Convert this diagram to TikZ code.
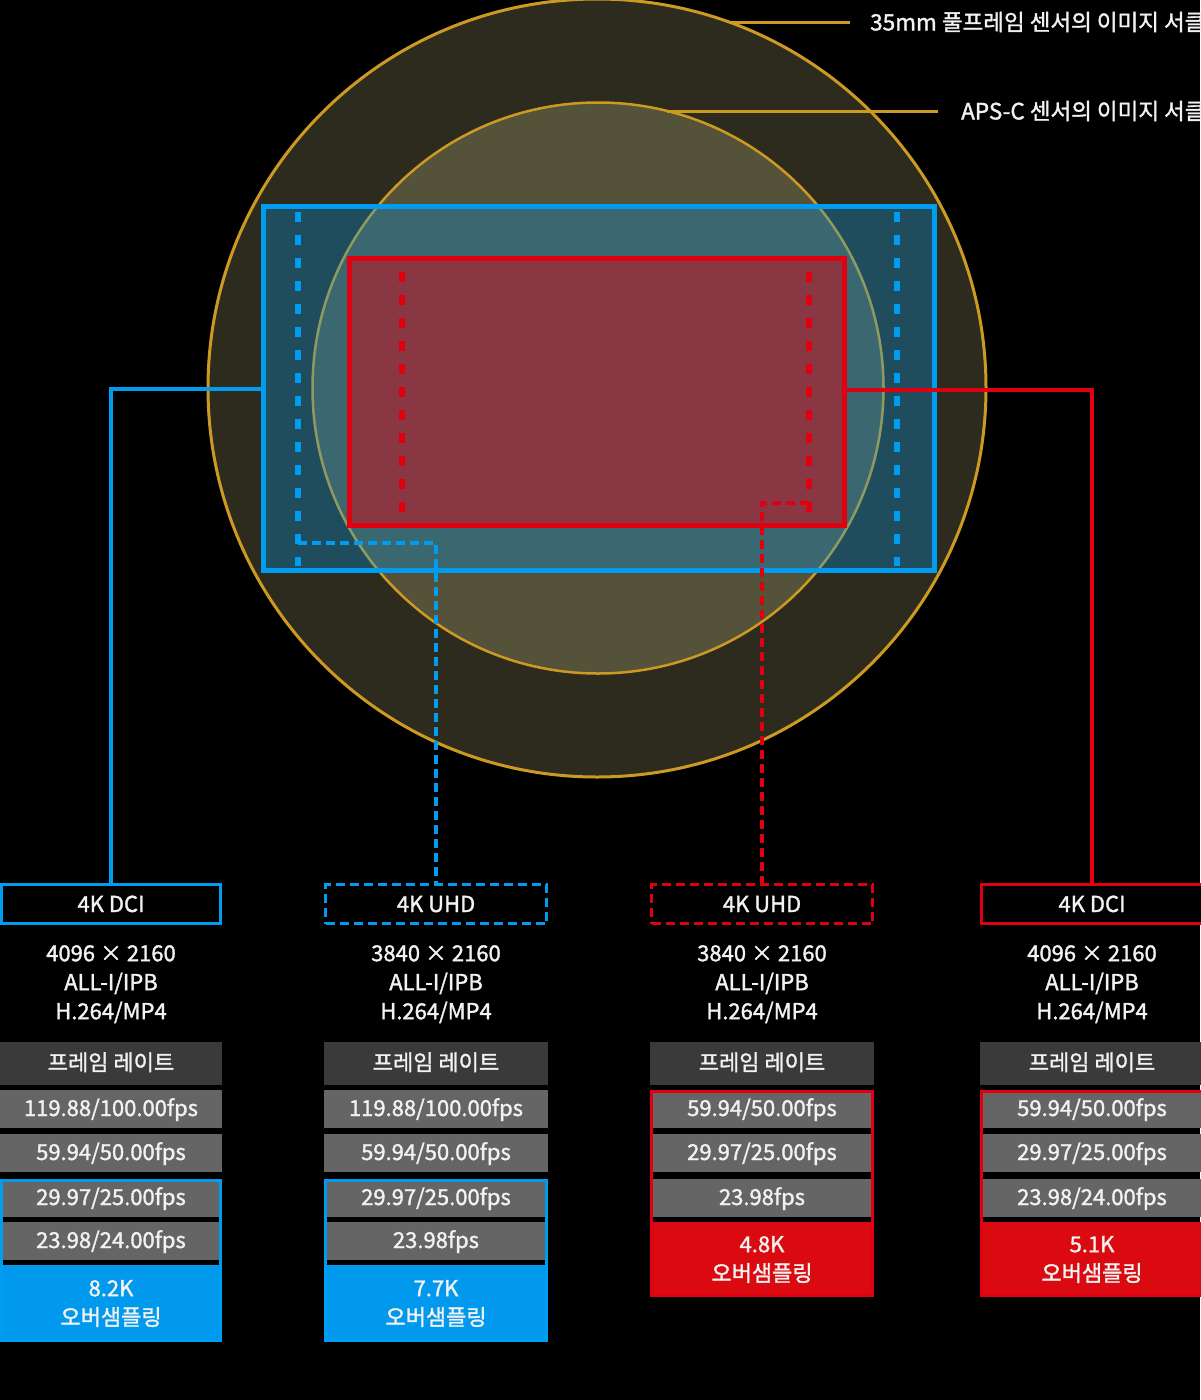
\documentclass[tikz,border=0pt]{standalone}
\usepackage{fontspec}
\setmainfont{Noto Sans CJK KR}[FakeBold=1.5]
\definecolor{gold}{HTML}{CC9A22}
\definecolor{ringfill}{HTML}{2D2B1E}
\definecolor{apsfill}{HTML}{55523A}
\definecolor{skyb}{HTML}{009CF0}
\definecolor{redc}{HTML}{E1000F}
\definecolor{rowgray}{HTML}{656565}
\definecolor{hdgray}{HTML}{3A3A3A}
\definecolor{osblue}{HTML}{0099EE}
\definecolor{osred}{HTML}{DB0A10}
\definecolor{txt}{HTML}{F2F2F2}
\begin{document}
\begin{tikzpicture}[x=1pt,y=-1pt,
  every node/.style={inner sep=0pt},
  lbl/.style={font=\fontsize{22}{29}\selectfont, text=txt},
  toplbl/.style={font=\fontsize{22.5}{29}\selectfont, text=txt, anchor=west},
  hdrbox/.style={draw, line width=3pt, fill=black, minimum height=39pt, lbl, text height=16pt, text depth=0pt},
  specs/.style={lbl, align=center, anchor=north},
  frbox/.style={fill=hdgray, minimum height=43pt, lbl, text height=16pt, text depth=2pt},
  fpsrow/.style={fill=rowgray, minimum height=38pt, lbl, text height=16pt, text depth=2pt},
  osbox/.style={lbl, align=center},
  grp/.style={draw, line width=3pt},
  thickdash/.style={line width=5.5pt, dash pattern=on 10pt off 13pt},
  thindash/.style={line width=3.5pt, dash pattern=on 9pt off 5pt},
  conn/.style={line width=4pt},
  goldline/.style={draw=gold, line width=3pt}
]
\useasboundingbox (0,0) rectangle (1200,1400);
\fill[black] (0,0) rectangle (1200,1400);

% image circles
\node[circle, minimum size=778pt, fill=ringfill, draw=gold, line width=3pt] (outer) at (597,388) {};
\node[circle, minimum size=571pt, fill=apsfill, draw=gold, line width=2.5pt] (inner) at (598,388) {};

% circle labels
\coordinate (ls1) at (729,22);
\coordinate (le1) at (850,22);
\coordinate (ls2) at (667,111);
\coordinate (le2) at (938,111);
\draw[goldline] (ls1) -- (le1);
\draw[goldline] (ls2) -- (le2);
\node[toplbl] (lab1) at (870,22) {35mm 풀프레임 센서의 이미지 서클};
\node[toplbl] (lab2) at (961,111) {APS-C 센서의 이미지 서클};

% sensor crop rectangles
\node[draw=skyb, line width=5pt, fill=skyb, fill opacity=0.3, draw opacity=1, minimum width=671pt, minimum height=364pt] (bluer) at (599,388.5) {};
\draw[skyb, thickdash] (298,212) -- (298,566);
\draw[skyb, thickdash] (897,212) -- (897,566);
\node[draw=redc, line width=5pt, fill=redc, fill opacity=0.47, draw opacity=1, minimum width=495pt, minimum height=267pt] (redr) at (597,392) {};
\draw[redc, thickdash] (402,272) -- (402,512);
\draw[redc, thickdash] (809,272) -- (809,524);

% column headers
\node[hdrbox, draw=skyb, minimum width=219pt] (hdr1) at (111,904) {4K DCI};
\node[hdrbox, draw=skyb, dash pattern=on 9pt off 5pt, minimum width=221pt] (hdr2) at (436,904) {4K UHD};
\node[hdrbox, draw=redc, dash pattern=on 9pt off 5pt, minimum width=221pt] (hdr3) at (762,904) {4K UHD};
\node[hdrbox, draw=redc, minimum width=221pt] (hdr4) at (1092,904) {4K DCI};

% connectors
\coordinate (bd) at (298,543);
\coordinate (rd) at (809,503);
\draw[skyb, conn] ([yshift=-0.5pt]bluer.west) -| (hdr1.north);
\draw[redc, conn] ([yshift=2pt]redr.east) -| (hdr4.north);
\draw[skyb, thindash] (bd) -| (hdr2.north);
\draw[redc, thindash] (rd) -| (hdr3.north);

% specs
\node[specs] (sp1) at (111,945) {4096 × 2160\\ALL-I/IPB\\H.264/MP4};
\node[specs] (sp2) at (436,945) {3840 × 2160\\ALL-I/IPB\\H.264/MP4};
\node[specs] (sp3) at (762,945) {3840 × 2160\\ALL-I/IPB\\H.264/MP4};
\node[specs] (sp4) at (1092,945) {4096 × 2160\\ALL-I/IPB\\H.264/MP4};

% frame rate headers
\node[frbox, minimum width=222pt] (fr1) at (111,1063.5) {프레임 레이트};
\node[frbox, minimum width=224pt] (fr2) at (436,1063.5) {프레임 레이트};
\node[frbox, minimum width=224pt] (fr3) at (762,1063.5) {프레임 레이트};
\node[frbox, minimum width=224pt] (fr4) at (1092,1063.5) {프레임 레이트};

% column 1
\node[fpsrow, minimum width=222pt] (a1) at (111,1109) {119.88/100.00fps};
\node[fpsrow, minimum width=222pt] (a2) at (111,1153) {59.94/50.00fps};
\node[fpsrow, minimum width=222pt] (a3) at (111,1198) {29.97/25.00fps};
\node[fpsrow, minimum width=222pt] (a4) at (111,1241) {23.98/24.00fps};
\node[osbox, fill=osblue, minimum width=222pt, minimum height=77pt] (os1) at (111,1303.5) {8.2K\\오버샘플링};
\draw[grp, skyb] (1.5,1180.5) rectangle (220.5,1340.5);

% column 2
\node[fpsrow, minimum width=224pt] (b1) at (436,1109) {119.88/100.00fps};
\node[fpsrow, minimum width=224pt] (b2) at (436,1153) {59.94/50.00fps};
\node[fpsrow, minimum width=224pt] (b3) at (436,1198) {29.97/25.00fps};
\node[fpsrow, minimum width=224pt] (b4) at (436,1241) {23.98fps};
\node[osbox, fill=osblue, minimum width=224pt, minimum height=77pt] (os2) at (436,1303.5) {7.7K\\오버샘플링};
\draw[grp, skyb] (325.5,1180.5) rectangle (546.5,1340.5);

% column 3
\node[fpsrow, minimum width=224pt] (c1) at (762,1109) {59.94/50.00fps};
\node[fpsrow, minimum width=224pt] (c2) at (762,1153) {29.97/25.00fps};
\node[fpsrow, minimum width=224pt] (c3) at (762,1198) {23.98fps};
\node[osbox, fill=osred, minimum width=224pt, minimum height=75pt] (os3) at (762,1259.5) {4.8K\\오버샘플링};
\draw[grp, redc] (651.5,1091.5) rectangle (872.5,1295.5);

% column 4
\node[fpsrow, minimum width=224pt] (d1) at (1092,1109) {59.94/50.00fps};
\node[fpsrow, minimum width=224pt] (d2) at (1092,1153) {29.97/25.00fps};
\node[fpsrow, minimum width=224pt] (d3) at (1092,1198) {23.98/24.00fps};
\node[osbox, fill=osred, minimum width=224pt, minimum height=75pt] (os4) at (1092,1259.5) {5.1K\\오버샘플링};
\draw[grp, redc] (981.5,1091.5) rectangle (1202.5,1295.5);
\end{tikzpicture}
\end{document}
